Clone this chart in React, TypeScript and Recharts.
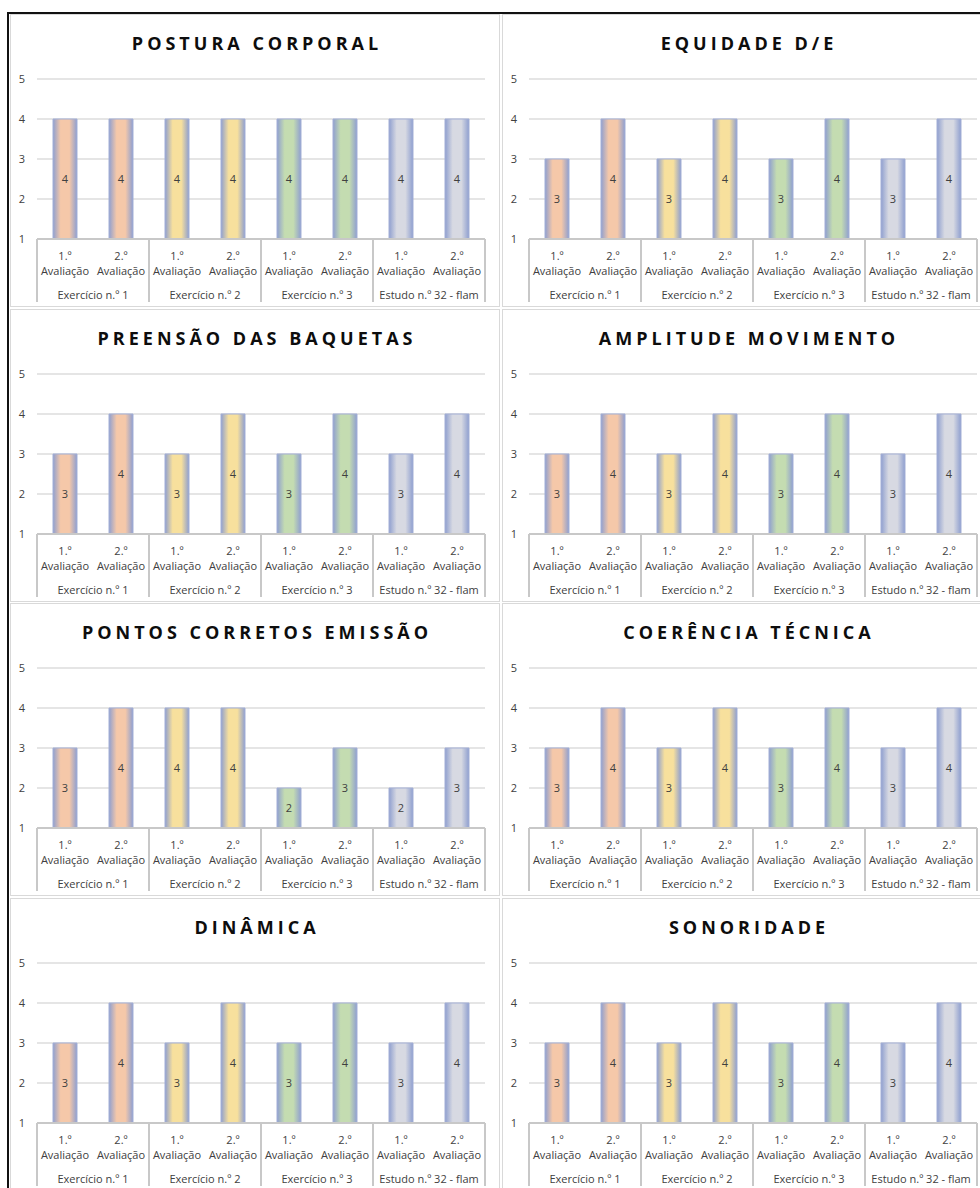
import React from 'react';
import { BarChart, Bar, XAxis, YAxis, CartesianGrid, Cell, LabelList } from 'recharts';

// assessment stages and exercise groups, shared by every panel
const stages = ['1.º', '2.º', '1.º', '2.º', '1.º', '2.º', '1.º', '2.º'];
const groups = ['Exercício n.º 1', 'Exercício n.º 2', 'Exercício n.º 3', 'Estudo n.º 32 - flam'];
const yTicks = [1, 2, 3, 4, 5];

const titles = [
  'POSTURA CORPORAL',
  'EQUIDADE D/E',
  'PREENSÃO DAS BAQUETAS',
  'AMPLITUDE MOVIMENTO',
  'PONTOS CORRETOS EMISSÃO',
  'COERÊNCIA TÉCNICA',
  'DINÂMICA',
  'SONORIDADE',
];

const posturaCorporal = [4, 4, 4, 4, 4, 4, 4, 4];
const equidade = [3, 4, 3, 4, 3, 4, 3, 4];
const preensao = [3, 4, 3, 4, 3, 4, 3, 4];
const amplitude = [3, 4, 3, 4, 3, 4, 3, 4];
const pontosCorretos = [3, 4, 4, 4, 2, 3, 2, 3];
const coerencia = [3, 4, 3, 4, 3, 4, 3, 4];
const dinamica = [3, 4, 3, 4, 3, 4, 3, 4];
const sonoridade = [3, 4, 3, 4, 3, 4, 3, 4];

const seriesList = [posturaCorporal, equidade, preensao, amplitude, pontosCorretos, coerencia, dinamica, sonoridade];

// centre colour of each group's bars
const groupColors = ['#f5c8a9', '#f7e09d', '#c4dcb1', '#d7d9e2'];
const edgeColor = '#8f9fcf';

const FONT = '"Open Sans", "Liberation Sans", sans-serif';
const PANEL_W = 490;
const PANEL_H = 293;
const PLOT_LEFT = 27;
const PLOT_RIGHT = 15;
const BAND = (PANEL_W - PLOT_LEFT - PLOT_RIGHT) / stages.length;
const TITLE_SPACING = 4;

const CategoryTick = (props: any) => {
  const { x, y, index } = props;
  const i = index as number;
  return (
    <g>
      <text x={x} y={y + 21} textAnchor="middle" fontSize={11} fill="#404040" fontFamily={FONT}>
        {stages[i]}
      </text>
      <text x={x} y={y + 36} textAnchor="middle" fontSize={11} fill="#404040" fontFamily={FONT}>
        Avaliação
      </text>
      {i % 2 === 0 && (
        <>
          <line x1={x - BAND / 2} x2={x - BAND / 2} y1={y} y2={y + 63} stroke="#c8c8c8" strokeWidth={2} />
          <text x={x + BAND / 2} y={y + 60} textAnchor="middle" fontSize={11} fill="#404040" fontFamily={FONT}>
            {groups[i / 2]}
          </text>
        </>
      )}
      {i === stages.length - 1 && (
        <line x1={x + BAND / 2} x2={x + BAND / 2} y1={y} y2={y + 63} stroke="#c8c8c8" strokeWidth={2} />
      )}
    </g>
  );
};

const Panel: React.FC<{ idx: number; title: string; values: number[] }> = ({ idx, title, values }) => {
  const data = values.map((v, i) => ({ key: i, value: v, group: Math.floor(i / 2) }));
  return (
    <div style={{ position: 'relative', width: PANEL_W, height: PANEL_H }}>
      <div
        style={{
          position: 'absolute', left: 0, top: 17, width: PANEL_W, textAlign: 'center', paddingLeft: TITLE_SPACING,
          boxSizing: 'border-box', fontFamily: FONT, fontWeight: 700, fontSize: 18, letterSpacing: TITLE_SPACING,
          color: '#0d0d0d', lineHeight: '24px',
        }}
      >
        {title}
      </div>
      <BarChart width={PANEL_W} height={PANEL_H} data={data} margin={{ top: 65, right: PLOT_RIGHT, bottom: 0, left: 0 }}>
        <defs>
          {groupColors.map((c, g) => (
            <linearGradient key={g} id={`bar-${idx}-${g}`} x1="0" y1="0" x2="1" y2="0">
              <stop offset="0%" stopColor={edgeColor} />
              <stop offset="32%" stopColor={c} />
              <stop offset="68%" stopColor={c} />
              <stop offset="100%" stopColor={edgeColor} />
            </linearGradient>
          ))}
        </defs>
        <CartesianGrid vertical={false} stroke="#dcdcdc" strokeWidth={1.5} />
        <YAxis
          width={PLOT_LEFT}
          domain={[1, 5]}
          ticks={yTicks}
          axisLine={false}
          tickLine={false}
          tickSize={0}
          tickMargin={12}
          tick={{ fontSize: 11, fill: '#404040', fontFamily: FONT }}
        />
        <XAxis
          dataKey="key"
          height={PANEL_H - 225}
          axisLine={{ stroke: '#c8c8c8', strokeWidth: 2 }}
          tickLine={false}
          tickSize={0}
          tickMargin={0}
          interval={0}
          tick={<CategoryTick />}
        />
        <Bar dataKey="value" barSize={24} isAnimationActive={false} stroke="#a3afd6" strokeWidth={1}>
          {data.map((d) => (
            <Cell key={d.key} fill={`url(#bar-${idx}-${d.group})`} />
          ))}
          <LabelList dataKey="value" position="center" fontSize={11} fill="#404040" fontFamily={FONT} />
        </Bar>
      </BarChart>
    </div>
  );
};

export default function App() {
  return (
    <div style={{ position: 'absolute', left: 0, top: 0, width: 980, height: 1188, background: '#fff', overflow: 'hidden' }}>
      {/* outer frame: heavy top and left rules */}
      <div style={{ position: 'absolute', left: 7, top: 12, width: 973, height: 2, background: '#111' }} />
      <div style={{ position: 'absolute', left: 7, top: 12, width: 2, height: 1176, background: '#111' }} />
      {titles.map((t, i) => {
        const col = i % 2;
        const row = Math.floor(i / 2);
        return (
          <div
            key={t}
            style={{
              position: 'absolute',
              left: col === 0 ? 10 : 502,
              top: Math.round(14 + row * 294.6),
              width: PANEL_W,
              height: PANEL_H,
              boxShadow: 'inset 0 0 0 1px #d9d9d9',
            }}
          >
            <Panel idx={i} title={t} values={seriesList[i]} />
          </div>
        );
      })}
    </div>
  );
}
